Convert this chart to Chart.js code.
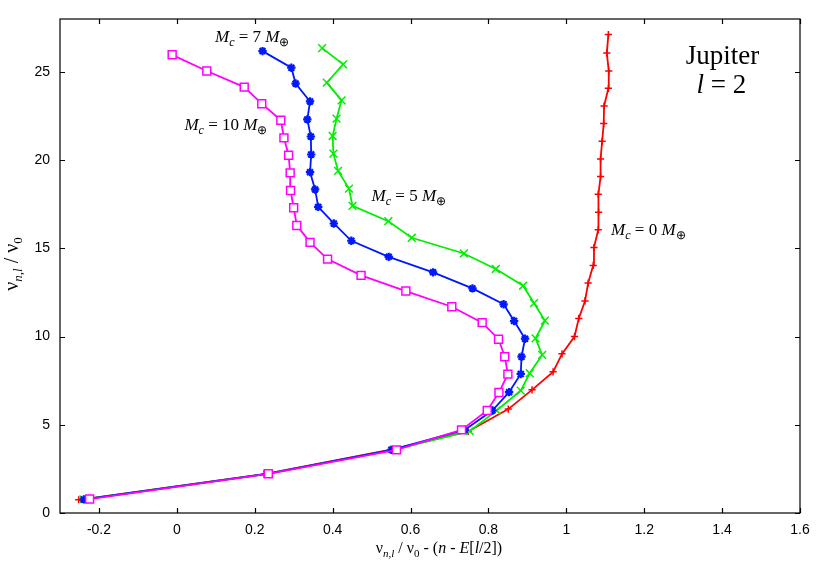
<!DOCTYPE html>
<html>
<head>
<meta charset="utf-8">
<script src="https://cdn.jsdelivr.net/npm/chart.js@4.4.1/dist/chart.umd.min.js"></script>
<style>
  html, body { margin: 0; padding: 0; background: #fff; }
</style>
</head>
<body>
<canvas id="jupiterChart" width="830" height="581"></canvas>
<script>
// frequency data, one pair of arrays per core mass
const x_mc0 = [-0.252, 0.228, 0.553, 0.748, 0.851, 0.912, 0.966, 0.989, 1.021, 1.032, 1.048, 1.056, 1.069,
  1.071, 1.082, 1.083, 1.082, 1.088, 1.088, 1.092, 1.096, 1.097, 1.108, 1.109, 1.104, 1.108];
const y_mc0 = [0.75, 2.22, 3.60, 4.62, 5.89, 6.98, 8.00, 9.02, 10.00, 11.03, 12.02, 13.03, 14.03,
  15.05, 16.05, 17.05, 18.07, 19.07, 20.07, 21.07, 22.07, 23.07, 24.07, 25.05, 26.07, 27.12];

const x_mc5 = [-0.240, 0.232, 0.558, 0.752, 0.821, 0.883, 0.906, 0.938, 0.921, 0.945, 0.917, 0.889, 0.819,
  0.737, 0.603, 0.543, 0.451, 0.442, 0.414, 0.402, 0.400, 0.410, 0.423, 0.385, 0.427, 0.373];
const y_mc5 = [0.77, 2.22, 3.59, 4.64, 5.81, 6.94, 7.92, 8.96, 9.90, 10.90, 11.90, 12.88, 13.83,
  14.71, 15.60, 16.54, 17.41, 18.39, 19.39, 20.37, 21.37, 22.35, 23.39, 24.39, 25.43, 26.35];

const x_mc7 = [-0.239, 0.231, 0.551, 0.739, 0.810, 0.853, 0.883, 0.885, 0.894, 0.866, 0.839, 0.759, 0.658,
  0.544, 0.448, 0.403, 0.363, 0.355, 0.342, 0.345, 0.344, 0.335, 0.342, 0.305, 0.294, 0.220];
const y_mc7 = [0.77, 2.22, 3.58, 4.71, 5.81, 6.85, 7.88, 8.86, 9.88, 10.88, 11.83, 12.73, 13.64,
  14.52, 15.43, 16.41, 17.35, 18.34, 19.32, 20.32, 21.34, 22.31, 23.33, 24.34, 25.24, 26.18];

const x_mc10 = [-0.224, 0.235, 0.564, 0.731, 0.797, 0.827, 0.850, 0.842, 0.826, 0.784, 0.706, 0.588, 0.473,
  0.387, 0.342, 0.308, 0.300, 0.292, 0.291, 0.287, 0.275, 0.267, 0.218, 0.173, 0.077, -0.012];
const y_mc10 = [0.79, 2.22, 3.58, 4.71, 5.81, 6.83, 7.87, 8.86, 9.85, 10.79, 11.69, 12.58, 13.47,
  14.39, 15.34, 16.30, 17.30, 18.28, 19.28, 20.28, 21.26, 22.26, 23.20, 24.14, 25.05, 25.97];

const xTicks = [-0.2, 0, 0.2, 0.4, 0.6, 0.8, 1, 1.2, 1.4, 1.6];
const yTicks = [0, 5, 10, 15, 20, 25];

const SERIF = '"Liberation Serif", "Times New Roman", serif';
const SANS = '"Liberation Sans", Arial, sans-serif';

function pts(xs, ys) {
  return xs.map((x, i) => ({ x: x, y: ys[i] }));
}

// draws a row of text pieces (for subscripts / italics)
function drawRich(ctx, runs, x, y, align) {
  let w = 0;
  runs.forEach(r => { ctx.font = r.font; w += ctx.measureText(r.text).width; });
  let cx = align === "center" ? x - w / 2 : x;
  runs.forEach(r => {
    ctx.font = r.font;
    ctx.fillText(r.text, cx, y + (r.dy || 0));
    cx += ctx.measureText(r.text).width;
  });
}

function mcLabel(mass) {
  return [
    { text: "M", font: "italic 17px " + SERIF },
    { text: "c", font: "italic 12px " + SERIF, dy: 4 },
    { text: " = " + mass + " ", font: "17px " + SERIF },
    { text: "M", font: "italic 17px " + SERIF },
    { text: "\u2295", font: "12px " + SERIF, dy: 4 },
  ];
}

const notes = [
  { x: 0.098, y: 26.69, runs: mcLabel(7) },
  { x: 0.0195, y: 21.73, runs: mcLabel(10) },
  { x: 0.50, y: 17.69, runs: mcLabel(5) },
  { x: 1.115, y: 15.75, runs: mcLabel(0) },
];

const framePlugin = {
  id: "frame",
  afterDraw(chart) {
    const ctx = chart.ctx;
    const a = chart.chartArea;
    const sx = chart.scales.x;
    const sy = chart.scales.y;
    ctx.save();
    ctx.strokeStyle = "#000";
    ctx.lineWidth = 1.2;
    ctx.strokeRect(a.left, a.top, a.right - a.left, a.bottom - a.top);
    ctx.beginPath();
    xTicks.forEach(v => {
      const p = Math.round(sx.getPixelForValue(v)) + 0.5;
      ctx.moveTo(p, a.bottom); ctx.lineTo(p, a.bottom - 5);
      ctx.moveTo(p, a.top); ctx.lineTo(p, a.top + 5);
    });
    yTicks.forEach(v => {
      const p = Math.round(sy.getPixelForValue(v)) + 0.5;
      ctx.moveTo(a.left, p); ctx.lineTo(a.left + 5, p);
      ctx.moveTo(a.right, p); ctx.lineTo(a.right - 5, p);
    });
    ctx.stroke();

    ctx.fillStyle = "#000";
    ctx.textBaseline = "alphabetic";
    ctx.textAlign = "left";
    notes.forEach(n => {
      drawRich(ctx, n.runs, sx.getPixelForValue(n.x), sy.getPixelForValue(n.y), "left");
    });
    drawRich(ctx, [{ text: "Jupiter", font: "27px " + SERIF }],
      sx.getPixelForValue(1.401), sy.getPixelForValue(25.47), "center");
    drawRich(ctx, [
      { text: "l", font: "italic 27px " + SERIF },
      { text: " = 2", font: "27px " + SERIF },
    ], sx.getPixelForValue(1.398), sy.getPixelForValue(23.8), "center");

    // x axis title
    const big = "16px " + SERIF, bigI = "italic 16px " + SERIF;
    const sub = "11px " + SERIF, subI = "italic 11px " + SERIF;
    drawRich(ctx, [
      { text: "\u03bd", font: big },
      { text: "n,l", font: subI, dy: 4 },
      { text: " / \u03bd", font: big },
      { text: "0", font: sub, dy: 4 },
      { text: " - (", font: big },
      { text: "n", font: bigI },
      { text: " - ", font: big },
      { text: "E", font: bigI },
      { text: "[", font: big },
      { text: "l", font: bigI },
      { text: "/2])", font: big },
    ], (a.left + a.right) / 2 + 9, 553, "center");

    // y axis title
    ctx.translate(18, 264);
    ctx.rotate(-Math.PI / 2);
    drawRich(ctx, [
      { text: "\u03bd", font: "20px " + SERIF },
      { text: "n,l", font: "italic 13px " + SERIF, dy: 4 },
      { text: " / \u03bd", font: "20px " + SERIF },
      { text: "0", font: "13px " + SERIF, dy: 4 },
    ], 0, 0, "center");
    ctx.restore();
  },
};

function tickLabel(v) {
  return String(Math.round(v * 10) / 10);
}

var chartBox = document.getElementById("jupiterChart");
var chart1 = new Chart(chartBox, {
  type: "scatter",
  data: {
    datasets: [
      {
        label: "Mc = 0",
        data: pts(x_mc0, y_mc0),
        showLine: true,
        borderColor: "#ff0000",
        backgroundColor: "#ff0000",
        borderWidth: 1.8,
        pointStyle: "cross",
        pointRadius: 3.6,
        pointBorderWidth: 1.5,
        order: 4,
      },
      {
        label: "Mc = 5",
        data: pts(x_mc5, y_mc5),
        showLine: true,
        borderColor: "#00ee00",
        backgroundColor: "#00ee00",
        borderWidth: 1.8,
        pointStyle: "crossRot",
        pointRadius: 5.5,
        pointBorderWidth: 1.5,
        order: 3,
      },
      {
        label: "Mc = 7",
        data: pts(x_mc7, y_mc7),
        showLine: true,
        borderColor: "#0018ff",
        backgroundColor: "#0018ff",
        borderWidth: 1.8,
        pointStyle: "star",
        pointRadius: 4.2,
        pointBorderWidth: 2.2,
        order: 2,
      },
      {
        label: "Mc = 10",
        data: pts(x_mc10, y_mc10),
        showLine: true,
        borderColor: "#ff00ff",
        backgroundColor: "#ffffff",
        borderWidth: 1.8,
        pointStyle: "rect",
        pointRadius: 5.6,
        pointBorderWidth: 1.5,
        order: 1,
      },
    ],
  },
  options: {
    responsive: false,
    animation: false,
    devicePixelRatio: 1,
    layout: {
      padding: { top: 19, right: 30, left: 0, bottom: 0 },
    },
    plugins: {
      legend: { display: false },
      tooltip: { enabled: false },
    },
    scales: {
      x: {
        type: "linear",
        min: -0.3,
        max: 1.6,
        afterBuildTicks: s => { s.ticks = xTicks.map(v => ({ value: v })); },
        afterFit: s => { s.height = 68; },
        grid: { display: false, drawTicks: false },
        border: { display: false },
        ticks: {
          color: "#000",
          padding: 9,
          maxRotation: 0,
          autoSkip: false,
          font: { family: SANS, size: 14 },
          callback: v => tickLabel(v),
        },
      },
      y: {
        type: "linear",
        min: 0,
        max: 28,
        afterBuildTicks: s => { s.ticks = yTicks.map(v => ({ value: v })); },
        afterFit: s => { s.width = 60; },
        grid: { display: false, drawTicks: false },
        border: { display: false },
        ticks: {
          color: "#000",
          padding: 10,
          autoSkip: false,
          font: { family: SANS, size: 14 },
          callback: v => tickLabel(v),
        },
      },
    },
  },
  plugins: [framePlugin],
});
</script>
</body>
</html>
